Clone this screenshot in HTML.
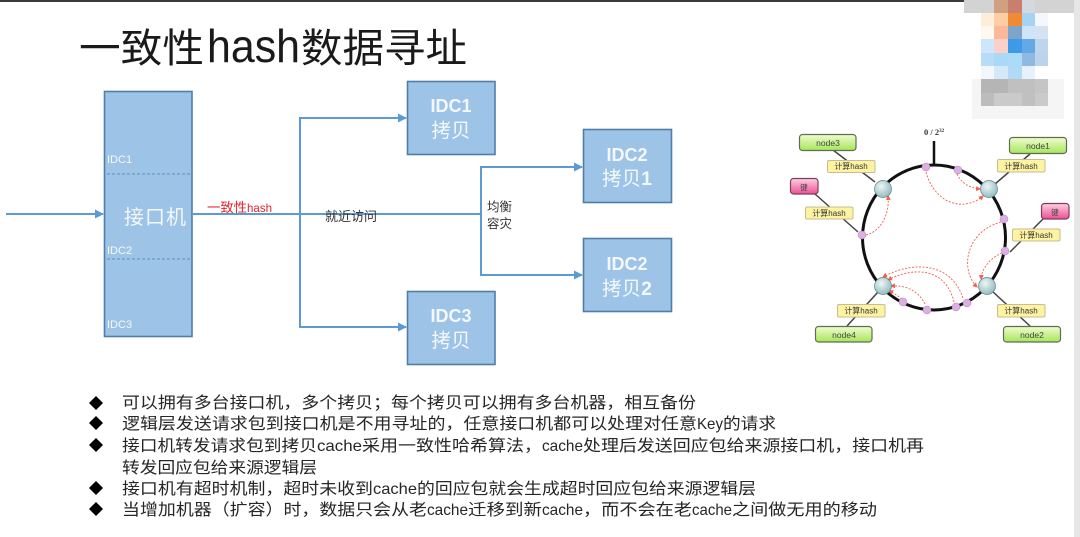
<!DOCTYPE html>
<html lang="zh">
<head>
<meta charset="utf-8">
<style>
html,body{margin:0;padding:0;background:#fff;width:1080px;height:537px;overflow:hidden}
svg{display:block}
text{font-family:"Liberation Sans","Noto Sans CJK SC",sans-serif}
</style>
</head>
<body>
<svg width="1080" height="537" viewBox="0 0 1080 537" xmlns="http://www.w3.org/2000/svg">
<defs>
<linearGradient id="g" x1="0" y1="0" x2="0" y2="1"><stop offset="0" stop-color="#f0fcd0"/><stop offset="1" stop-color="#a6e65a"/></linearGradient>
<linearGradient id="p" x1="0" y1="0" x2="0" y2="1"><stop offset="0" stop-color="#fbd0e0"/><stop offset="1" stop-color="#ee4f96"/></linearGradient>
<radialGradient id="c" cx=".4" cy=".35" r=".7"><stop offset="0" stop-color="#eef6f6"/><stop offset="1" stop-color="#8fb8bc"/></radialGradient>
<marker id="a" markerWidth="9" markerHeight="9" refX="8" refY="4.500" orient="auto" markerUnits="userSpaceOnUse"><path d="M0 0L9 4.500L0 9Z" fill="#5b9bd5"/></marker>
<marker id="r" markerWidth="5" markerHeight="5" refX="4" refY="2.500" orient="auto" markerUnits="userSpaceOnUse"><path d="M0 0L5 2.500L0 5Z" fill="#f0604c"/></marker>
</defs>

<rect x="0" y="0" width="1080" height="2" fill="#3a3a3a"/>
<rect x="1074" y="0" width="6" height="537" fill="#e6e6e6"/>

<!-- pixelated block -->
<g shape-rendering="crispEdges">
<rect x="972" y="79" width="92" height="40" fill="#f5f5f5"/>
<rect x="964" y="0" width="110" height="13" fill="#d3d3d3"/>
<rect x="994" y="0" width="14" height="13" fill="#d0a080"/><rect x="1008" y="0" width="14" height="13" fill="#c97f70"/><rect x="1022" y="0" width="13" height="13" fill="#d5d8dc"/>
<rect x="981" y="13" width="13" height="13" fill="#fdeeda"/><rect x="994" y="13" width="14" height="13" fill="#fdcda4"/><rect x="1008" y="13" width="14" height="13" fill="#f08a35"/><rect x="1022" y="13" width="13" height="13" fill="#a6d3f2"/><rect x="1035" y="13" width="13" height="13" fill="#f4f8fd"/>
<rect x="981" y="26" width="13" height="13" fill="#fef8ee"/><rect x="994" y="26" width="14" height="13" fill="#fbb99a"/><rect x="1008" y="26" width="14" height="13" fill="#7ca5c9"/><rect x="1022" y="26" width="13" height="13" fill="#d0e4f8"/><rect x="1035" y="26" width="13" height="13" fill="#d5e2f2"/>
<rect x="981" y="39" width="13" height="14" fill="#cee6fb"/><rect x="994" y="39" width="14" height="14" fill="#fbd0c8"/><rect x="1008" y="39" width="14" height="14" fill="#3d9ae6"/><rect x="1022" y="39" width="13" height="14" fill="#62a9e6"/><rect x="1035" y="39" width="13" height="14" fill="#bdd6ee"/>
<rect x="981" y="53" width="13" height="13" fill="#b8dcf8"/><rect x="994" y="53" width="14" height="13" fill="#a8daf8"/><rect x="1008" y="53" width="14" height="13" fill="#aadcf8"/><rect x="1022" y="53" width="13" height="13" fill="#8fb9e3"/><rect x="1035" y="53" width="13" height="13" fill="#bdd3ea"/>
<rect x="981" y="66" width="13" height="13" fill="#f3f7fb"/><rect x="994" y="66" width="14" height="13" fill="#d5e8f8"/><rect x="1008" y="66" width="14" height="13" fill="#b0daf6"/><rect x="1022" y="66" width="13" height="13" fill="#e6f1fb"/>
<rect x="981" y="79" width="13" height="14" fill="#b5b5b5"/><rect x="994" y="79" width="14" height="14" fill="#b5b5b5"/><rect x="1008" y="79" width="14" height="14" fill="#c0c0c0"/><rect x="1022" y="79" width="13" height="14" fill="#c0c0c0"/><rect x="1035" y="79" width="13" height="14" fill="#c5c5c5"/>
<rect x="981" y="93" width="13" height="13" fill="#bcbcbc"/><rect x="994" y="93" width="14" height="13" fill="#cacaca"/><rect x="1008" y="93" width="14" height="13" fill="#cacaca"/><rect x="1022" y="93" width="13" height="13" fill="#c0c0c0"/><rect x="1035" y="93" width="13" height="13" fill="#cacaca"/>
</g>

<!-- title -->
<g fill="#1a1a1a">
<text x="79" y="62" font-size="40" textLength="125" lengthAdjust="spacingAndGlyphs">一致性</text>
<text x="207" y="62" font-size="46" textLength="93" lengthAdjust="spacingAndGlyphs">hash</text>
<text x="301" y="62" font-size="40" textLength="166" lengthAdjust="spacingAndGlyphs">数据寻址</text>
</g>

<!-- connectors -->
<g fill="none" stroke="#5b9bd5" stroke-width="2">
<path d="M6 214H103" marker-end="url(#a)"/>
<path d="M193 214H481"/>
<path d="M406 118H300V327H406" marker-end="url(#a)"/>
<path d="M300 118H406" marker-end="url(#a)"/>
<path d="M582 167H481V275H582" marker-end="url(#a)"/>
<path d="M481 167H582" marker-end="url(#a)"/>
</g>

<!-- boxes -->
<g fill="#9dc3e6" stroke="#4f7ea8" stroke-width="1.600">
<rect x="104.500" y="91.500" width="87.500" height="245"/>
<rect x="407.500" y="81.500" width="87.500" height="73"/>
<rect x="407.500" y="291.500" width="87.500" height="73"/>
<rect x="583.500" y="129.500" width="88" height="73"/>
<rect x="583.500" y="238.500" width="88" height="73"/>
</g>
<path d="M107 174H191M107 259H191" stroke="#5b8fc0" stroke-width="1" stroke-dasharray="3 2" fill="none"/>

<g fill="#f4f8fc">
<text x="107" y="163" font-size="11">IDC1</text>
<text x="107" y="254" font-size="11">IDC2</text>
<text x="107" y="328" font-size="11">IDC3</text>
<text x="124" y="224" font-size="20" textLength="62" lengthAdjust="spacing">接口机</text>
<g text-anchor="middle">
<text x="451" y="112" font-size="18" font-weight="bold">IDC1</text>
<text x="451" y="137" font-size="19.500">拷贝</text>
<text x="451" y="322" font-size="18" font-weight="bold">IDC3</text>
<text x="451" y="347" font-size="19.500">拷贝</text>
<text x="627" y="161" font-size="18" font-weight="bold">IDC2</text>
<text x="627" y="185" font-size="19.500">拷贝<tspan font-weight="bold">1</tspan></text>
<text x="627" y="270" font-size="18" font-weight="bold">IDC2</text>
<text x="627" y="295" font-size="19.500">拷贝<tspan font-weight="bold">2</tspan></text>
</g>
</g>

<text x="207" y="212" font-size="13" fill="#e8202a" textLength="40" lengthAdjust="spacingAndGlyphs">一致性</text>
<text x="247" y="212" font-size="12" fill="#e8202a" textLength="25" lengthAdjust="spacingAndGlyphs">hash</text>
<text x="325" y="221" font-size="13" fill="#333">就近访问</text>
<text x="487" y="211" font-size="12.500" fill="#333">均衡</text>
<text x="487" y="228" font-size="12.500" fill="#333">容灾</text>

<!-- ring diagram -->
<g style="filter:blur(.35px)">
<g stroke="#444" stroke-width="1.500" fill="none">
<path d="M833 150L875 182"/>
<path d="M1030 154L995 184"/>
<path d="M815 194L858 232"/>
<path d="M1043 219L1010 252"/>
<path d="M847 326L878 292"/>
<path d="M1030 326L992 291"/>
</g>
<ellipse cx="934" cy="237.500" rx="71.500" ry="72.500" fill="none" stroke="#111" stroke-width="3"/>
<path d="M934 141V165" stroke="#111" stroke-width="2.500"/>
<text x="924" y="135" font-size="8.500" font-weight="bold" fill="#333" style="font-family:'Liberation Serif',serif">0 / 2<tspan font-size="5" dy="-3">32</tspan></text>

<g fill="none" stroke="#f0604c" stroke-width=".9" stroke-dasharray="2 1.500">
<path d="M926 172C935 205 965 212 983 196" marker-end="url(#r)"/>
<path d="M957 174C962 184 970 188 980 189" marker-end="url(#r)"/>
<path d="M866 235C880 232 890 215 888 196" marker-end="url(#r)"/>
<path d="M1001 222C965 232 960 270 977 287" marker-end="url(#r)"/>
<path d="M1002 253C990 258 982 268 981 279" marker-end="url(#r)"/>
<path d="M963 298C950 260 910 262 883 277" marker-end="url(#r)"/>
<path d="M954 302C945 265 910 268 888 280" marker-end="url(#r)"/>
<path d="M925 304C918 290 905 285 891 286" marker-end="url(#r)"/>
<path d="M902 299C898 296 894 293 889 291" marker-end="url(#r)"/>
</g>

<g fill="url(#c)" stroke="#5b8488" stroke-width=".7">
<circle cx="883" cy="189" r="8.500"/><circle cx="989" cy="189" r="8.500"/>
<circle cx="883" cy="286" r="8.500"/><circle cx="987" cy="286" r="8.500"/>
</g>
<g fill="#dcaee4" stroke="#b080b8" stroke-width=".5">
<circle cx="926" cy="167" r="4"/><circle cx="958" cy="170" r="4"/>
<circle cx="1004" cy="219" r="4"/><circle cx="1005" cy="251" r="4"/>
<circle cx="862" cy="235" r="4"/><circle cx="903" cy="302" r="4"/>
<circle cx="927" cy="310" r="4"/><circle cx="956" cy="307" r="4"/>
<circle cx="967" cy="303" r="4"/>
</g>

<g fill="url(#g)" stroke="#5f6d50" stroke-width="1.200">
<rect x="799.500" y="134.500" width="56.500" height="16" rx="3"/>
<rect x="1009.500" y="137.500" width="57" height="16" rx="3"/>
<rect x="815.500" y="326.500" width="56.500" height="15.500" rx="3"/>
<rect x="1003.500" y="326.500" width="57" height="15.500" rx="3"/>
</g>
<g fill="url(#p)" stroke="#7c3f58" stroke-width="1.200">
<rect x="790.500" y="178.500" width="27.500" height="15.500" rx="3"/>
<rect x="1041.500" y="203.500" width="27.500" height="15.500" rx="3"/>
</g>
<g fill="#fdf3a0" stroke="#c4bd96" stroke-width="1">
<rect x="827.500" y="160.500" width="47.500" height="12" rx="1.500"/>
<rect x="997.500" y="159.500" width="47.500" height="12.500" rx="1.500"/>
<rect x="805.500" y="207" width="47.500" height="12" rx="1.500"/>
<rect x="1012.500" y="229" width="47.500" height="12" rx="1.500"/>
<rect x="837.500" y="304.500" width="47.500" height="12.500" rx="1.500"/>
<rect x="997.500" y="304.500" width="47.500" height="12.500" rx="1.500"/>
</g>
<g font-size="8.500" fill="#444" text-anchor="middle">
<text x="828" y="146">node3</text>
<text x="1038" y="149">node1</text>
<text x="844" y="338">node4</text>
<text x="1032" y="338">node2</text>
<text x="804" y="190" font-size="7.500">键</text>
<text x="1055" y="215" font-size="7.500">键</text>
</g>
<g font-size="8" fill="#333" text-anchor="middle">
<text x="851" y="169">计算hash</text>
<text x="1021" y="169">计算hash</text>
<text x="829" y="216">计算hash</text>
<text x="1036" y="238">计算hash</text>
<text x="861" y="313.500">计算hash</text>
<text x="1021" y="313.500">计算hash</text>
</g>
</g>

<!-- bullets -->
<g fill="#000">
<path d="M96 396L103 403L96 410L89 403Z"/>
<path d="M96 416L103 423L96 430L89 423Z"/>
<path d="M96 438L103 445L96 452L89 445Z"/>
<path d="M96 481L103 488L96 495L89 488Z"/>
<path d="M96 502L103 509L96 516L89 509Z"/>
</g>
<g font-size="16" fill="#262626">
<text x="122" y="408" textLength="574" lengthAdjust="spacingAndGlyphs">可以拥有多台接口机，多个拷贝；每个拷贝可以拥有多台机器，相互备份</text>

<text x="122" y="429" textLength="575" lengthAdjust="spacingAndGlyphs">逻辑层发送请求包到接口机是不用寻址的，任意接口机都可以处理对任意</text>
<text x="697" y="429" textLength="26" lengthAdjust="spacingAndGlyphs">Key</text>
<text x="723" y="429" textLength="53" lengthAdjust="spacingAndGlyphs">的请求</text>

<text x="122" y="451" textLength="195" lengthAdjust="spacingAndGlyphs">接口机转发请求包到拷贝</text>
<text x="317" y="451" textLength="45" lengthAdjust="spacingAndGlyphs">cache</text>
<text x="362" y="451" textLength="180" lengthAdjust="spacingAndGlyphs">采用一致性哈希算法，</text>
<text x="542" y="451" textLength="41" lengthAdjust="spacingAndGlyphs">cache</text>
<text x="583" y="451" textLength="341" lengthAdjust="spacingAndGlyphs">处理后发送回应包给来源接口机，接口机再</text>

<text x="122" y="473" textLength="195" lengthAdjust="spacingAndGlyphs">转发回应包给来源逻辑层</text>

<text x="122" y="494" textLength="251" lengthAdjust="spacingAndGlyphs">接口机有超时机制，超时未收到</text>
<text x="373" y="494" textLength="44" lengthAdjust="spacingAndGlyphs">cache</text>
<text x="417" y="494" textLength="339" lengthAdjust="spacingAndGlyphs">的回应包就会生成超时回应包给来源逻辑层</text>

<text x="122" y="515" textLength="305" lengthAdjust="spacingAndGlyphs">当增加机器（扩容）时，数据只会从老</text>
<text x="427" y="515" textLength="41" lengthAdjust="spacingAndGlyphs">cache</text>
<text x="468" y="515" textLength="74" lengthAdjust="spacingAndGlyphs">迁移到新</text>
<text x="542" y="515" textLength="41" lengthAdjust="spacingAndGlyphs">cache</text>
<text x="583" y="515" textLength="109" lengthAdjust="spacingAndGlyphs">，而不会在老</text>
<text x="692" y="515" textLength="40" lengthAdjust="spacingAndGlyphs">cache</text>
<text x="732" y="515" textLength="145" lengthAdjust="spacingAndGlyphs">之间做无用的移动</text>
</g>
</svg>
</body>
</html>
